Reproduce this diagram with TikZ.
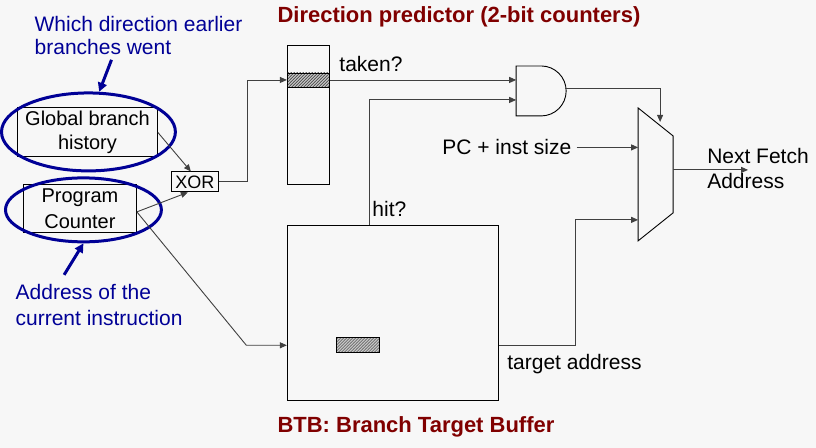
\documentclass[tikz,border=0pt]{standalone}
\usepackage{fontspec}
\setmainfont{Liberation Sans}
\usetikzlibrary{arrows.meta,patterns,shapes.geometric}
\definecolor{note}{RGB}{0,0,150}
\definecolor{heading}{RGB}{128,0,0}
\definecolor{paper}{HTML}{F7F7F7}
\definecolor{wirecol}{gray}{0.25}

\begin{document}
\begin{tikzpicture}[x=1pt,y=-1pt,
	wire/.style={draw=wirecol,line width=0.9pt,-{Triangle[length=7pt,width=6pt]}},
	box/.style={draw,line width=0.9pt,inner sep=0pt},
	hatch/.style={preaction={fill=gray!45},pattern=north east lines,pattern color=black!80},
	txt/.style={inner sep=0pt,font=\fontsize{21}{25}\selectfont},
	ring/.style={ellipse,draw=note,line width=3pt,inner sep=0pt},
	notearrow/.style={draw=note,line width=3pt,-{Triangle[length=9pt,width=9pt]}}]
	\fill[paper] (0,0) rectangle (816,448);
	
	\node (whichnote) [txt,anchor=north west,align=left,text=note,font=\fontsize{21}{23}\selectfont] at (34,16) {Which direction earlier\\branches went};
	\node (addrnote) [txt,anchor=north west,align=left,text=note,font=\fontsize{21}{26}\selectfont] at (15,284) {Address of the\\current instruction};
	\node (dirtitle) [txt,anchor=base west,text=heading,font=\bfseries\fontsize{22}{26}\selectfont] at (277,23) {Direction predictor (2-bit counters)};
	\node (btbtitle) [txt,anchor=base west,text=heading,font=\bfseries\fontsize{22}{26}\selectfont] at (277,433) {BTB: Branch Target Buffer};
	
	\node (ghr) [box,minimum width=140,minimum height=49,align=center,font=\fontsize{20}{24}\selectfont] at (87,132.5) {Global branch\\history};
	\node (pc) [box,minimum width=113,minimum height=48,align=center,font=\fontsize{20}{26}\selectfont] at (79.5,209) {Program\\Counter};
	\node (xor) [box,minimum width=47,minimum height=20,font=\fontsize{18}{20}\selectfont] at (194.5,182) {XOR};
	\node (ring1) [ring,minimum width=174,minimum height=78] at (88,132) {};
	\node (ring2) [ring,minimum width=156,minimum height=64] at (83,210) {};
	
	\node (ctr) [box,minimum width=42,minimum height=140] at (308,115) {};
	\node (row) [box,hatch,minimum width=42,minimum height=14] at (308,80) {};
	\node (btb) [box,minimum width=211,minimum height=175] at (392.5,313.5) {};
	\node (entry) [box,hatch,minimum width=43,minimum height=15] at (357.5,345.5) {};
	
	\draw[line width=0.9pt] (516,66) -- (541,66) arc[start angle=-90,end angle=90,radius=25] -- (516,116) -- cycle;
	\coordinate (andA) at (516,80);
	\coordinate (andB) at (516,100);
	\coordinate (andO) at (565,88);
	
	\draw[line width=0.9pt] (638,108) -- (673,136) -- (673,213) -- (638,241) -- cycle;
	\coordinate (muxsel) at (660,122);
	\coordinate (muxin) at (638,170);
	\coordinate (muxout) at (673,170);
	\coordinate (fetch) at (748,170);
	\coordinate (pcbend) at (246,345.5);
	
	\node (taken) [txt,anchor=base west] at (339,72) {taken?};
	\node (hit) [txt,anchor=base west] at (372,217) {hit?};
	\node (pcinc) [txt,anchor=base west] at (442,155) {PC + inst size};
	\node (tgt) [txt,anchor=base west] at (507,370) {target address};
	\node (nextfetch) [txt,anchor=north west,align=left] at (707,148) {Next Fetch\\Address};
	
	\draw[notearrow] ([xshift=-27,yshift=-5]whichnote.south) -- (ring1.75);
	\draw[notearrow] ([xshift=-35,yshift=9]addrnote.north) -- (ring2.south);
	
	\draw[wire] (ghr.east) -- ([xshift=-4]xor.north);
	\draw[wire] ([yshift=-3]pc.east) -- ([xshift=-7]xor.south);
	\draw[wire] (xor.east) -- ++(29,0) |- (row.west);
	\draw[wire] ([yshift=-3]pc.east) -- (pcbend) -- (entry -| btb.west);
	\draw[wire] (row.east) -- (andA);
	\draw[wire] ([xshift=-23.5]btb.north) |- (andB);
	\draw[wire] (andO) -| (muxsel);
	\draw[wire] ([xshift=5]pcinc.east) -- (pcinc.east -| muxin);
	\draw[wire] (entry -| btb.east) -- ++(77,0) |- ([yshift=-50]muxin);
	\draw[wire] (muxout) -- (fetch);
\end{tikzpicture}
\end{document}
